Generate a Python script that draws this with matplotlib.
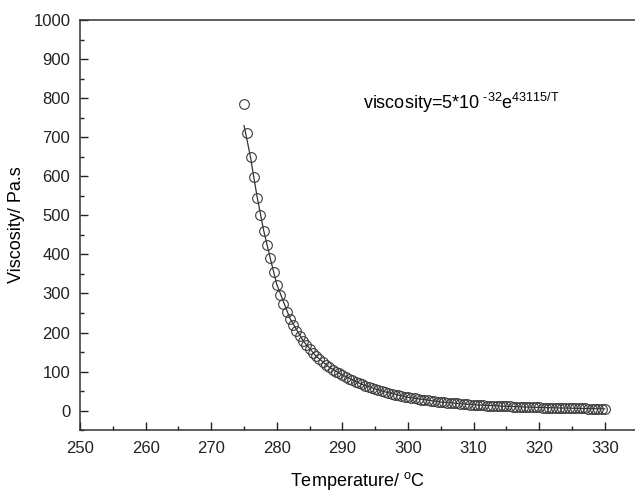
import numpy as np
import matplotlib
matplotlib.use('Agg')
import matplotlib.pyplot as plt
from matplotlib.ticker import MultipleLocator

plt.rcParams['font.family'] = ['Liberation Sans', 'DejaVu Sans']

# measured points, every 0.5 C from 275 to 330
temp = np.arange(275, 330.5, 0.5)
visc = [785, 712, 650, 597, 544, 501, 460, 424, 392, 356,
        322, 296, 273, 253, 235, 219, 204, 191, 178, 167,
        157, 148, 139, 131, 124, 117, 111, 105, 100, 95,
        91, 86, 82, 78, 74, 70, 67, 64, 61, 58,
        55, 52, 50, 47, 45, 43, 41, 39, 37, 35,
        34, 32, 31, 29, 28, 27, 26, 25, 24, 23,
        22, 21, 20.5, 19.7, 19, 18.2, 17.5, 16.7, 16, 15.5,
        15, 14.5, 14, 13.5, 13, 12.7, 12.4, 12, 11.6, 11.3,
        11, 10.6, 10.3, 10, 9.7, 9.4, 9.1, 8.8, 8.6, 8.3,
        8, 7.8, 7.6, 7.4, 7.2, 7, 6.8, 6.6, 6.5, 6.3,
        6.1, 5.9, 5.8, 5.6, 5.4, 5.2, 5.0, 4.8, 4.6, 4.4,
        4.3]

# fitted curve
fit_t = [275, 275.5, 276, 276.5, 277, 278, 279, 280, 282, 284, 286,
         288, 290, 293, 296, 300, 305, 310, 315, 320, 325, 330]
fit_v = [730, 690, 648, 597, 547, 461, 390, 323, 236, 179, 139,
         111, 91, 67, 50, 34, 22, 15, 11, 8, 6.1, 4.3]

fig = plt.figure(figsize=(6.35, 4.91), dpi=100)
ax = fig.add_axes([0.126, 0.124, 0.874, 0.835])

ax.plot(fit_t, fit_v, color='#333333', lw=0.9, zorder=2)
ax.plot(temp, visc, 'o', ms=7, mfc='none', mec='#3a3a3a', mew=0.8, zorder=3)

ax.set_xlim(250, 334.6)
ax.set_ylim(-50, 1000)
ax.xaxis.set_major_locator(MultipleLocator(10))
ax.xaxis.set_minor_locator(MultipleLocator(5))
ax.yaxis.set_major_locator(MultipleLocator(100))
ax.yaxis.set_minor_locator(MultipleLocator(50))
ax.tick_params(which='both', direction='in', width=1, labelsize=12, colors='#222222')
ax.tick_params(which='major', length=6)
ax.tick_params(which='minor', length=3)
ax.tick_params(axis='x', pad=8)
ax.tick_params(axis='y', pad=7)
ax.spines['right'].set_visible(False)
for s in ['left', 'bottom', 'top']:
    ax.spines[s].set_linewidth(1.1)
    ax.spines[s].set_color('#333333')

ax.set_xlabel(r'Temperature/ $^{\mathregular{o}}$C', fontsize=13, labelpad=10)
ax.set_ylabel('Viscosity/ Pa.s', fontsize=13, labelpad=6)

ax.text(293.1, 788, 'viscosity=5*10$^{\\mathregular{\\ \u201032}}$e$^{\\mathregular{43115/T}}$',
        fontsize=13, va='center', ha='left')

fig.savefig('out.png', dpi=100)
